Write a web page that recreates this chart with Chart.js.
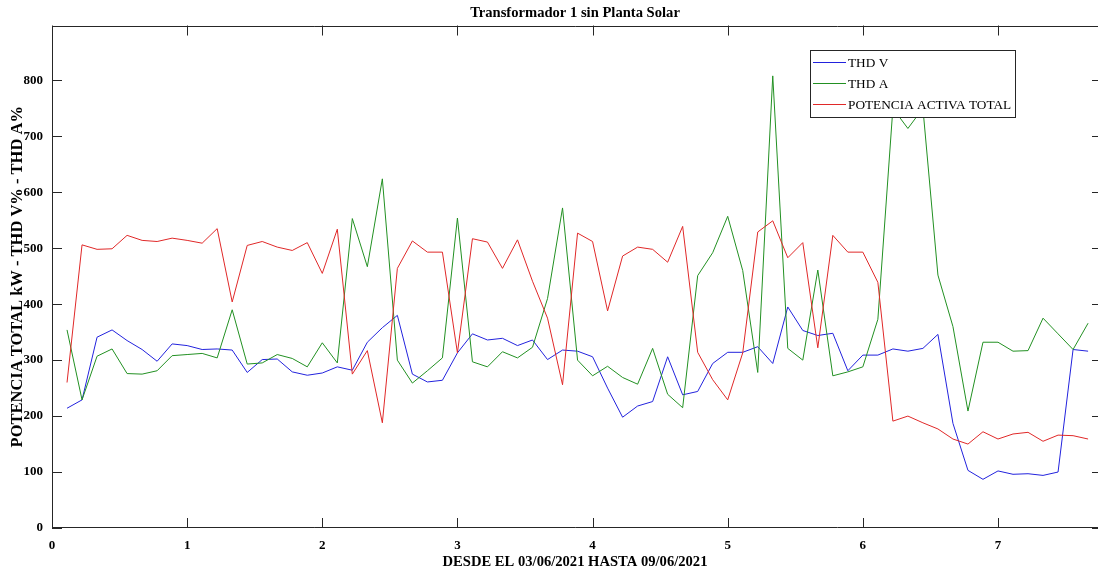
<!DOCTYPE html>
<html>
<head>
<meta charset="utf-8">
<script src="https://cdn.jsdelivr.net/npm/chart.js@4.4.1/dist/chart.umd.min.js"></script>
<style>
  html, body { margin: 0; padding: 0; background: #fff; }
</style>
</head>
<body>
<canvas id="thdChart" width="1098" height="573"></canvas>
<script>
// 9 muestras por dia, la primera en 1/9
const thdV = [
  214, 229, 341, 354, 335, 319, 298, 329, 326, 319,
  320, 318, 278, 301, 302, 279, 273, 277, 288, 282,
  332, 358, 380, 275, 261, 264, 313, 347, 336, 339,
  326, 336, 301, 318, 316, 306, 250, 198, 218, 226,
  306, 238, 244, 294, 314, 314, 324, 294, 395, 353,
  344, 348, 281, 309, 309, 320, 316, 321, 346, 187,
  103, 87, 102, 96, 97, 94, 100, 319, 316
];
const thdA = [
  354, 229, 307, 320, 276, 275, 281, 308, 310, 312,
  304, 390, 293, 295, 310, 303, 288, 331, 295, 553,
  467, 624, 300, 259, 281, 304, 554, 297, 288, 315,
  304, 323, 410, 572, 300, 272, 289, 269, 257, 321,
  239, 215, 451, 492, 557, 460, 278, 808, 321, 300,
  461, 272, 279, 288, 373, 750, 714, 750, 452, 360,
  209, 332, 332, 316, 317, 375, 347, 319, 366
];
const potencia = [
  260, 506, 498, 499, 523, 514, 512, 518, 514, 509,
  535, 404, 505, 512, 502, 496, 510, 455, 534, 275,
  317, 188, 464, 513, 493, 493, 313, 517, 511, 464,
  515, 441, 375, 256, 527, 512, 388, 486, 502, 498,
  475, 539, 314, 265, 229, 313, 529, 549, 483, 510,
  322, 523, 493, 493, 439, 191, 200, 188, 177, 159,
  150, 172, 159, 168, 171, 155, 166, 165, 159
];
const seriesNames = ["THD V", "THD A", "POTENCIA ACTIVA TOTAL"];
const xTicks = [0, 1, 2, 3, 4, 5, 6, 7];
const yTicks = [0, 100, 200, 300, 400, 500, 600, 700, 800];

function toPoints(values) {
  return values.map((v, i) => ({ x: (i + 1) / 9, y: v }));
}

const serif = "'Liberation Serif', 'Times New Roman', serif";

// caja de ejes estilo matlab + leyenda
const framePlugin = {
  id: "frame",
  afterDatasetsDraw(chart) {
    const { ctx, chartArea: a, scales: { x, y } } = chart;
    ctx.save();
    ctx.strokeStyle = "#262626";
    ctx.lineWidth = 1;
    ctx.beginPath();
    ctx.rect(Math.round(a.left) + 0.5, Math.round(a.top) + 0.5,
      Math.round(a.right - a.left) + 2, Math.round(a.bottom - a.top) - 1);
    xTicks.forEach(v => {
      const px = Math.round(x.getPixelForValue(v)) + 0.5;
      ctx.moveTo(px, a.bottom); ctx.lineTo(px, a.bottom - 10);
      ctx.moveTo(px, a.top); ctx.lineTo(px, a.top + 10);
    });
    yTicks.forEach(v => {
      const py = Math.round(y.getPixelForValue(v)) + 0.5;
      ctx.moveTo(a.left, py); ctx.lineTo(a.left + 10, py);
      ctx.moveTo(a.right, py); ctx.lineTo(a.right - 6, py);
    });
    ctx.stroke();

    // leyenda
    ctx.fillStyle = "#fff";
    ctx.fillRect(810, 50, 205, 67);
    ctx.strokeStyle = "#262626";
    ctx.strokeRect(810.5, 50.5, 205, 67);
    ctx.font = "13.3px " + serif;
    ctx.textBaseline = "middle";
    chart.data.datasets.forEach((ds, k) => {
      const ly = 62.5 + k * 21;
      ctx.strokeStyle = ds.borderColor;
      ctx.beginPath();
      ctx.moveTo(813, ly); ctx.lineTo(846, ly);
      ctx.stroke();
      ctx.fillStyle = "#000";
      ctx.fillText(ds.label, 848, ly + 1);
    });
    ctx.restore();
  }
};

const data = {
  datasets: [
    { label: seriesNames[0], data: toPoints(thdV), borderColor: "#2222dd", order: 3 },
    { label: seriesNames[1], data: toPoints(thdA), borderColor: "#229022", order: 2 },
    { label: seriesNames[2], data: toPoints(potencia), borderColor: "#e02828", order: 1 }
  ]
};

const config = {
  type: "line",
  data: data,
  options: {
    responsive: false,
    animation: false,
    devicePixelRatio: 1,
    layout: { padding: 0 },
    elements: {
      line: { borderWidth: 1, tension: 0 },
      point: { radius: 0 }
    },
    plugins: {
      legend: { display: false },
      tooltip: { enabled: false },
      title: {
        display: true,
        fullSize: false,
        text: "Transformador 1 sin Planta Solar",
        color: "#000",
        font: { family: serif, size: 14.6, weight: "bold" },
        padding: { top: 4, bottom: 4 }
      }
    },
    scales: {
      x: {
        type: "linear",
        min: 0,
        max: 7.74,
        afterFit: (scale) => { scale.height = 45; },
        afterBuildTicks: (scale) => { scale.ticks = xTicks.map(v => ({ value: v })); },
        grid: { display: false, drawTicks: false },
        border: { display: false },
        ticks: {
          color: "#000",
          padding: 10,
          font: { family: serif, size: 13, weight: "bold" }
        },
        title: {
          display: true,
          text: "DESDE EL 03/06/2021 HASTA 09/06/2021",
          color: "#000",
          font: { family: serif, size: 14.6, weight: "bold" },
          padding: { top: 0, bottom: 2 }
        }
      },
      y: {
        min: 0,
        max: 898,
        afterFit: (scale) => { scale.width = 52; },
        afterBuildTicks: (scale) => { scale.ticks = yTicks.map(v => ({ value: v })); },
        grid: { display: false, drawTicks: false },
        border: { display: false },
        ticks: {
          color: "#000",
          padding: 9,
          font: { family: serif, size: 13, weight: "bold" }
        },
        title: {
          display: true,
          text: "POTENCIA TOTAL kW - THD V% - THD A%",
          color: "#000",
          font: { family: serif, size: 16.5, weight: "bold" },
          padding: { top: 8, bottom: 0 }
        }
      }
    }
  },
  plugins: [framePlugin]
};

const thdChart = new Chart(document.getElementById("thdChart"), config);
</script>
</body>
</html>
